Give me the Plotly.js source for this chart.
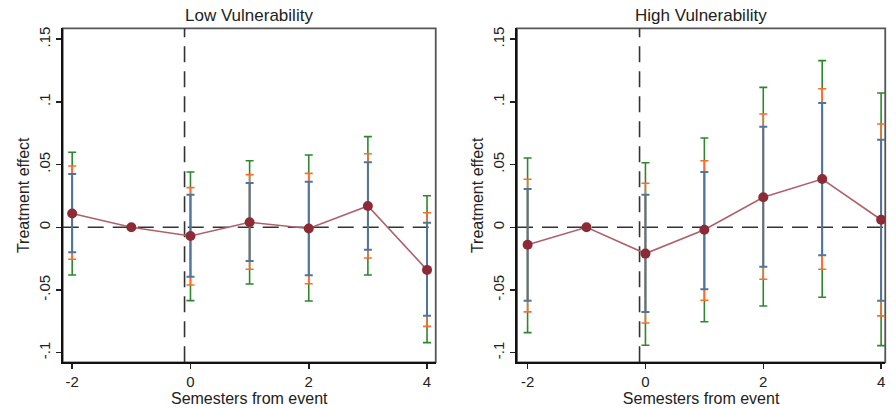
<!DOCTYPE html>
<html>
<head>
<meta charset="utf-8">
<script src="https://cdn.plot.ly/plotly-3.0.1.min.js"></script>
<style>html,body{margin:0;padding:0;background:#fff;}#chart{width:896px;height:408px;}</style>
</head>
<body>
<div id="chart"></div>
<script>
// ---- data ----
const periods = [-2, -1, 0, 1, 2, 3, 4];
const ciPeriods = [-2, 0, 1, 2, 3, 4];
const panelTitles = ["Low Vulnerability", "High Vulnerability"];
const yTickVals = [-0.1, -0.05, 0, 0.05, 0.1, 0.15];
const yTickText = ["-.1", "-.05", "0", ".05", ".1", ".15"];
const xTickVals = [-2, 0, 2, 4];
const xTickText = ["-2", "0", "2", "4"];

const lowEst = [0.011, 0, -0.007, 0.004, -0.001, 0.017, -0.034];
const lowBlueHi = [0.0425, 0.026, 0.0353, 0.0364, 0.0518, 0.0037];
const lowBlueLo = [-0.0199, -0.0394, -0.0269, -0.0383, -0.0179, -0.0705];
const lowOrangeHi = [0.0489, 0.0316, 0.042, 0.043, 0.0587, 0.0116];
const lowOrangeLo = [-0.0255, -0.046, -0.0335, -0.045, -0.0245, -0.079];
const lowGreenHi = [0.0598, 0.0441, 0.0531, 0.0577, 0.0723, 0.0252];
const lowGreenLo = [-0.038, -0.0585, -0.0452, -0.0588, -0.038, -0.092];

const highEst = [-0.014, 0, -0.021, -0.002, 0.024, 0.0385, 0.006];
const highBlueHi = [0.0305, 0.026, 0.0441, 0.0802, 0.0991, 0.0699];
const highBlueLo = [-0.0585, -0.0675, -0.0494, -0.0314, -0.0223, -0.0585];
const highOrangeHi = [0.0383, 0.0351, 0.0531, 0.0904, 0.1105, 0.0824];
const highOrangeLo = [-0.0675, -0.0763, -0.0582, -0.0415, -0.0335, -0.0707];
const highGreenHi = [0.0553, 0.0515, 0.0712, 0.1116, 0.1329, 0.1071];
const highGreenLo = [-0.084, -0.0941, -0.0753, -0.0628, -0.0558, -0.0944];

const eventLine = -0.1;

// ---- styles ----
const cGreen = "#2e862e", cOrange = "#ff6a2b", cBlue = "#4f74a0";
const cPoint = "#8c2a35", cLine = "#b0606a";
const font = "Liberation Sans, Arial, sans-serif";

function ciTrace(xa, ya, est, hi, lo, color, width) {
  const y = ciPeriods.map(p => est[periods.indexOf(p)]);
  return {
    type: "scatter", mode: "markers", x: ciPeriods, y: y,
    xaxis: xa, yaxis: ya, hoverinfo: "skip", showlegend: false,
    marker: {size: 1, opacity: 0},
    error_y: {
      type: "data", symmetric: false,
      array: hi.map((h, i) => h - y[i]),
      arrayminus: lo.map((l, i) => y[i] - l),
      color: color, thickness: width, width: 4
    }
  };
}
function estTrace(xa, ya, est) {
  return {
    type: "scatter", mode: "lines+markers", x: periods, y: est,
    xaxis: xa, yaxis: ya, showlegend: false,
    line: {color: cLine, width: 1.6},
    marker: {color: cPoint, size: 10}
  };
}

const panels = [
  {xa: "x", ya: "y", est: lowEst, b: [lowBlueHi, lowBlueLo], o: [lowOrangeHi, lowOrangeLo], g: [lowGreenHi, lowGreenLo]},
  {xa: "x2", ya: "y2", est: highEst, b: [highBlueHi, highBlueLo], o: [highOrangeHi, highOrangeLo], g: [highGreenHi, highGreenLo]}
];

const traces = [];
const shapes = [];
panels.forEach(p => {
  traces.push(ciTrace(p.xa, p.ya, p.est, p.g[0], p.g[1], cGreen, 1.6));
  traces.push(ciTrace(p.xa, p.ya, p.est, p.o[0], p.o[1], cOrange, 1.6));
  traces.push(ciTrace(p.xa, p.ya, p.est, p.b[0], p.b[1], cBlue, 2));
  const xd = p.xa + " domain", yd = p.ya + " domain";
  shapes.push({type: "rect", xref: xd, yref: yd, x0: 0, x1: 1, y0: 0, y1: 1, layer: "below",
               line: {color: "#555", width: 1.8}});
  shapes.push({type: "line", xref: xd, yref: p.ya, x0: 0, x1: 1, y0: 0, y1: 0, layer: "below",
               line: {color: "#333", width: 1.6, dash: "16px,9px"}});
  shapes.push({type: "line", xref: p.xa, yref: yd, x0: eventLine, x1: eventLine, y0: 0, y1: 1, layer: "below",
               line: {color: "#333", width: 1.6, dash: "16px,9px"}});
  traces.push(estTrace(p.xa, p.ya, p.est));
});

function xAxis(domain, range, anchor) {
  return {
    domain: domain, range: range, anchor: anchor,
    tickmode: "array", tickvals: xTickVals, ticktext: xTickText,
    ticks: "outside", ticklen: 5, tickwidth: 1.5, tickcolor: "#222",
    showline: true, linecolor: "#111", linewidth: 2, showgrid: false, zeroline: false,
    tickfont: {family: font, size: 15, color: "#222"},
    title: {text: "Semesters from event", font: {family: font, size: 16, color: "#222"}, standoff: 0},
    automargin: false, fixedrange: true
  };
}
function yAxis(domain, anchor) {
  return {
    domain: domain, range: [-0.1077, 0.1587], anchor: anchor,
    tickmode: "array", tickvals: yTickVals, ticktext: yTickText, tickangle: -90,
    ticks: "outside", ticklen: 5, tickwidth: 1.5, tickcolor: "#222",
    showline: true, linecolor: "#111", linewidth: 2, showgrid: false, zeroline: false,
    tickfont: {family: font, size: 15, color: "#222"},
    title: {text: "Treatment effect", font: {family: font, size: 16, color: "#222"}, standoff: 2},
    automargin: false, fixedrange: true
  };
}

const yDom = [0.112, 0.9306];
const layout = {
  width: 896, height: 408,
  margin: {l: 0, r: 0, t: 0, b: 0},
  paper_bgcolor: "#fff", plot_bgcolor: "#fff",
  showlegend: false,
  xaxis: xAxis([0.070, 0.4863], [-2.16, 4.147], "y"),
  yaxis: yAxis(yDom, "x"),
  xaxis2: xAxis([0.577, 0.988], [-2.18, 4.07], "y2"),
  yaxis2: yAxis(yDom, "x2"),
  shapes: shapes,
  annotations: [
    {text: panelTitles[0], xref: "x domain", yref: "paper", x: 0.5, y: 1 - 16/408, xanchor: "center", yanchor: "middle",
     showarrow: false, font: {family: font, size: 17, color: "#222"}},
    {text: panelTitles[1], xref: "x2 domain", yref: "paper", x: 0.5, y: 1 - 16/408, xanchor: "center", yanchor: "middle",
     showarrow: false, font: {family: font, size: 17, color: "#222"}}
  ]
};

Plotly.newPlot("chart", traces, layout, {displayModeBar: false, staticPlot: true});
</script>
</body>
</html>
